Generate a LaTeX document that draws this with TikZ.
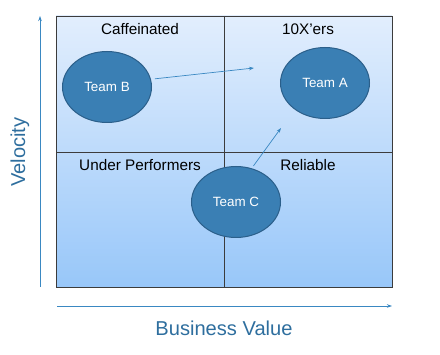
\documentclass[tikz,border=0pt]{standalone}
\usepackage{fontspec}
\setmainfont{Liberation Sans}
\usetikzlibrary{shapes.geometric, arrows.meta}
\definecolor{teamfill}{HTML}{3A7FB4}
\definecolor{teamedge}{HTML}{2B5F8A}
\definecolor{axisblue}{HTML}{3A88C2}
\definecolor{labelblue}{HTML}{2E6E9E}
\definecolor{gridtop}{HTML}{E2EEFD}
\definecolor{gridbot}{HTML}{98C7F9}
\definecolor{gridline}{HTML}{3C3C3C}

\begin{document}
\begin{tikzpicture}[x=1pt, y=-1pt,
  team/.style={ellipse, draw=teamedge, fill=teamfill, line width=1pt, inner sep=0pt,
    minimum width=89pt, minimum height=71pt, text=white, font=\fontsize{13.4}{15}\selectfont},
  quad/.style={font=\fontsize{15.3}{17}\selectfont},
  axislabel/.style={text=labelblue, font=\fontsize{20.1}{23}\selectfont},
  move/.style={draw=axisblue, line width=0.7pt, -{Stealth[length=5pt,width=3.5pt]}}
]
\useasboundingbox (0,0) rectangle (440,355);

%% grid
\shade[top color=gridtop, bottom color=gridbot] (56,16) rectangle (392,287);
\draw[gridline, line width=0.8pt] (56,16) rectangle (392,287);
\draw[gridline, line width=0.8pt] (224,16) -- (224,287);
\draw[gridline, line width=0.8pt] (56,152) -- (392,152);

\node[quad] (caff) at (140,29) {Caffeinated};
\node[quad] (tenx) at (308,29) {10X'ers};
\node[quad] (under) at (140,165) {Under Performers};
\node[quad] (reli) at (308,165) {Reliable};

%% teams
\node[team] (teamB) at (107,87) {Team B};
\node[team] (teamA) at (325,83) {Team A};
\node[team] (teamC) at (236,202) {Team C};

\coordinate (toA1) at (254,68);
\coordinate (toA2) at (281,128);
\draw[move, shorten <=4pt] (teamB.10) -- (toA1);
\draw[move, shorten <=3pt] (teamC.65) -- (toA2);

%% axes
\coordinate (vlow) at (40,287);
\coordinate (vhigh) at (40,16);
\coordinate (bleft) at (57,306);
\coordinate (bright) at (392,306);
\draw[move] (vlow) -- (vhigh);
\draw[move] (bleft) -- (bright);

\node[axislabel, rotate=90] (vel) at (20,152) {Velocity};
\node[axislabel] (bval) at (224,328) {Business Value};
\end{tikzpicture}
\end{document}
